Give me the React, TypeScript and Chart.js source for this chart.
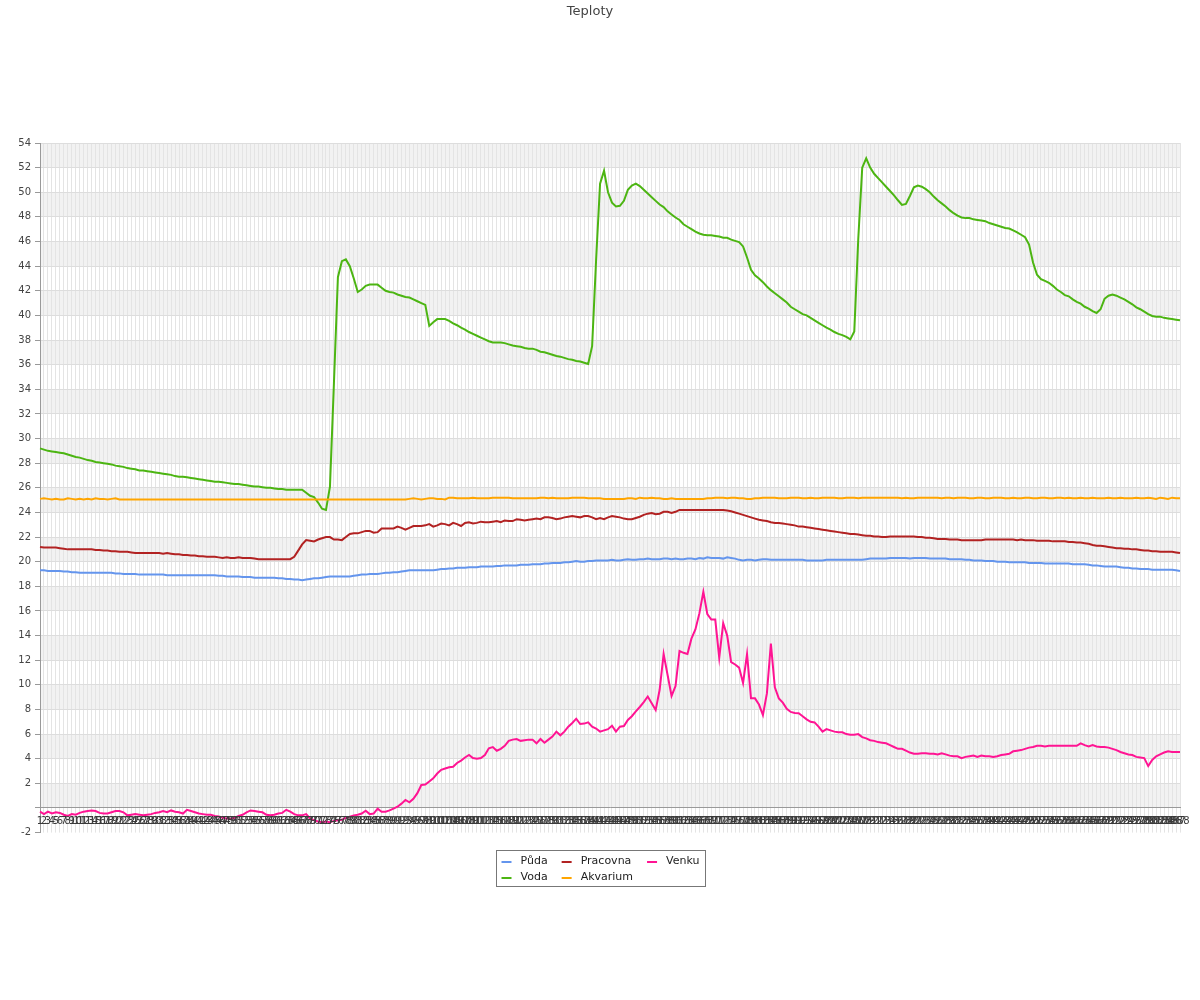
import React, { useEffect, useRef } from 'react';
import { Chart, registerables } from 'chart.js';

Chart.register(...registerables);

const FONT = '"DejaVu Sans", "Noto Sans", sans-serif';

const TITLE = 'Teploty';
const SERIES_NAMES = ['Půda', 'Voda', 'Pracovna', 'Akvarium', 'Venku'];
const SERIES_COLORS = ['#6495ed', '#4cb512', '#b22222', '#ffa500', '#ff1493'];
const LEGEND_COLUMNS = [[0, 1], [2, 3], [4]];

const Y_MIN = -2;
const Y_MAX = 54;
const Y_STEP = 1;
const BAND = 2;

// categories: samples 1..288
const LABELS = Array.from({ length: 288 }, (_, i) => String(i + 1));

const PUDA = [
  19.3, 19.3, 19.25, 19.25, 19.25, 19.25, 19.2, 19.2, 19.15, 19.15,
  19.1, 19.1, 19.1, 19.1, 19.1, 19.1, 19.1, 19.1, 19.1, 19.05,
  19.05, 19.0, 19.0, 19.0, 19.0, 18.95, 18.95, 18.95, 18.95, 18.95,
  18.95, 18.95, 18.9, 18.9, 18.9, 18.9, 18.9, 18.9, 18.9, 18.9,
  18.9, 18.9, 18.9, 18.9, 18.9, 18.85, 18.85, 18.8, 18.8, 18.8,
  18.8, 18.75, 18.75, 18.75, 18.7, 18.7, 18.7, 18.7, 18.7, 18.7,
  18.65, 18.65, 18.6, 18.6, 18.55, 18.55, 18.5, 18.55, 18.6, 18.65,
  18.65, 18.7, 18.75, 18.8, 18.8, 18.8, 18.8, 18.8, 18.8, 18.85,
  18.9, 18.95, 18.95, 19.0, 19.0, 19.0, 19.05, 19.1, 19.1, 19.15,
  19.15, 19.2, 19.25, 19.3, 19.3, 19.3, 19.3, 19.3, 19.3, 19.3,
  19.35, 19.4, 19.4, 19.45, 19.45, 19.5, 19.5, 19.5, 19.55, 19.55,
  19.55, 19.6, 19.6, 19.6, 19.6, 19.65, 19.65, 19.7, 19.7, 19.7,
  19.7, 19.75, 19.75, 19.75, 19.8, 19.8, 19.8, 19.85, 19.85, 19.9,
  19.9, 19.9, 19.95, 19.95, 20.0, 20.05, 20.0, 20.0, 20.05, 20.05,
  20.1, 20.1, 20.1, 20.1, 20.15, 20.1, 20.1, 20.15, 20.2, 20.15,
  20.15, 20.2, 20.2, 20.25, 20.2, 20.2, 20.2, 20.25, 20.25, 20.2,
  20.25, 20.2, 20.2, 20.25, 20.25, 20.2, 20.3, 20.25, 20.35, 20.3,
  20.3, 20.3, 20.25, 20.35, 20.3, 20.25, 20.15, 20.1, 20.15, 20.15,
  20.1, 20.15, 20.2, 20.2, 20.15, 20.15, 20.15, 20.15, 20.15, 20.15,
  20.15, 20.15, 20.15, 20.1, 20.1, 20.1, 20.1, 20.1, 20.15, 20.15,
  20.15, 20.15, 20.15, 20.15, 20.15, 20.15, 20.15, 20.15, 20.2, 20.25,
  20.25, 20.25, 20.25, 20.25, 20.3, 20.3, 20.3, 20.3, 20.3, 20.25,
  20.3, 20.3, 20.3, 20.3, 20.25, 20.25, 20.25, 20.25, 20.25, 20.2,
  20.2, 20.2, 20.2, 20.15, 20.15, 20.1, 20.1, 20.1, 20.05, 20.05,
  20.05, 20.0, 20.0, 20.0, 19.95, 19.95, 19.95, 19.95, 19.95, 19.9,
  19.9, 19.9, 19.9, 19.85, 19.85, 19.85, 19.85, 19.85, 19.85, 19.85,
  19.8, 19.8, 19.8, 19.8, 19.75, 19.7, 19.7, 19.65, 19.6, 19.6,
  19.6, 19.6, 19.55, 19.5, 19.5, 19.45, 19.45, 19.4, 19.4, 19.4,
  19.35, 19.35, 19.35, 19.35, 19.35, 19.35, 19.3, 19.25,
];

const VODA = [
  29.2, 29.1, 29.0, 28.95, 28.9, 28.85, 28.8, 28.7, 28.6, 28.5,
  28.45, 28.35, 28.25, 28.2, 28.1, 28.05, 28.0, 27.95, 27.9, 27.8,
  27.75, 27.7, 27.6, 27.55, 27.5, 27.4, 27.4, 27.35, 27.3, 27.25,
  27.2, 27.15, 27.1, 27.05, 26.95, 26.9, 26.9, 26.85, 26.8, 26.75,
  26.7, 26.65, 26.6, 26.55, 26.5, 26.5, 26.45, 26.4, 26.35, 26.3,
  26.3, 26.25, 26.2, 26.15, 26.1, 26.1, 26.05, 26.0, 26.0, 25.95,
  25.9, 25.9, 25.85, 25.85, 25.85, 25.85, 25.85, 25.6, 25.35, 25.25,
  24.8, 24.3, 24.2, 26.1, 34.5, 43.1, 44.4, 44.55, 44.0, 43.0,
  41.9, 42.1, 42.4, 42.5, 42.5, 42.5, 42.25, 42.0, 41.9, 41.85,
  41.7, 41.6, 41.5, 41.45, 41.3, 41.15, 41.0, 40.85, 39.15, 39.45,
  39.7, 39.7, 39.7, 39.55, 39.35, 39.2, 39.0, 38.85, 38.65, 38.5,
  38.35, 38.2, 38.05, 37.9, 37.8, 37.8, 37.8, 37.75, 37.65, 37.55,
  37.5, 37.45, 37.35, 37.3, 37.3, 37.2, 37.05, 37.0, 36.9, 36.8,
  36.7, 36.65, 36.55, 36.45, 36.4, 36.3, 36.25, 36.15, 36.05, 37.5,
  44.5, 50.7, 51.75, 50.0, 49.15, 48.85, 48.9, 49.3, 50.2, 50.55,
  50.7, 50.5, 50.2, 49.9, 49.6, 49.3, 49.0, 48.8, 48.45, 48.2,
  47.95, 47.75, 47.4, 47.2, 47.0, 46.8, 46.65, 46.55, 46.5, 46.5,
  46.45, 46.4, 46.3, 46.3, 46.15, 46.05, 45.95, 45.6, 44.7, 43.7,
  43.25, 43.0, 42.7, 42.35, 42.05, 41.8, 41.55, 41.3, 41.05, 40.7,
  40.5, 40.3, 40.1, 40.0, 39.8, 39.6, 39.4, 39.2, 39.0, 38.85,
  38.65, 38.5, 38.4, 38.25, 38.05, 38.7, 46.2, 52.0, 52.75, 52.0,
  51.5, 51.15, 50.8, 50.45, 50.1, 49.75, 49.35, 48.97, 49.05, 49.7,
  50.4, 50.55, 50.45, 50.25, 50.0, 49.65, 49.35, 49.1, 48.85, 48.55,
  48.3, 48.1, 47.95, 47.9, 47.9, 47.8, 47.75, 47.7, 47.65, 47.5,
  47.4, 47.3, 47.2, 47.1, 47.05, 46.9, 46.75, 46.55, 46.35, 45.75,
  44.3, 43.3, 42.95, 42.8, 42.65, 42.4, 42.1, 41.9, 41.65, 41.55,
  41.3, 41.1, 40.95, 40.7, 40.55, 40.35, 40.2, 40.5, 41.35, 41.6,
  41.7, 41.6, 41.45, 41.3, 41.1, 40.9, 40.65, 40.5, 40.3, 40.1,
  39.95, 39.9, 39.9, 39.8, 39.75, 39.7, 39.65, 39.6,
];

const PRACOVNA = [
  21.2, 21.15, 21.15, 21.15, 21.15, 21.1, 21.05, 21.0, 21.0, 21.0,
  21.0, 21.0, 21.0, 21.0, 20.95, 20.95, 20.9, 20.9, 20.85, 20.85,
  20.8, 20.8, 20.8, 20.75, 20.7, 20.7, 20.7, 20.7, 20.7, 20.7,
  20.7, 20.65, 20.7, 20.65, 20.6, 20.6, 20.55, 20.55, 20.5, 20.5,
  20.45, 20.45, 20.4, 20.4, 20.4, 20.35, 20.3, 20.35, 20.3, 20.3,
  20.35, 20.3, 20.3, 20.3, 20.25, 20.2, 20.2, 20.2, 20.2, 20.2,
  20.2, 20.2, 20.2, 20.2, 20.4, 20.9, 21.4, 21.75, 21.7, 21.65,
  21.8, 21.9, 22.0, 22.0, 21.8, 21.8, 21.75, 22.0, 22.25, 22.3,
  22.3, 22.4, 22.5, 22.5, 22.35, 22.4, 22.7, 22.7, 22.7, 22.7,
  22.85, 22.75, 22.6, 22.75, 22.9, 22.9, 22.9, 22.95, 23.05, 22.85,
  22.95, 23.1, 23.05, 22.95, 23.15, 23.05, 22.9, 23.15, 23.2, 23.1,
  23.15, 23.25, 23.2, 23.2, 23.25, 23.3, 23.2, 23.35, 23.3, 23.3,
  23.45, 23.4, 23.35, 23.4, 23.45, 23.5, 23.45, 23.6, 23.6, 23.55,
  23.45, 23.5, 23.6, 23.65, 23.7, 23.65, 23.6, 23.7, 23.7, 23.6,
  23.45, 23.55, 23.45, 23.6, 23.7, 23.65, 23.6, 23.5, 23.45, 23.45,
  23.55, 23.65, 23.8, 23.9, 23.95, 23.85, 23.9, 24.05, 24.05, 23.95,
  24.05, 24.2, 24.2, 24.2, 24.2, 24.2, 24.2, 24.2, 24.2, 24.2,
  24.2, 24.2, 24.2, 24.15, 24.1, 24.0, 23.9, 23.8, 23.7, 23.6,
  23.5, 23.4, 23.35, 23.3, 23.2, 23.15, 23.15, 23.1, 23.05, 23.0,
  22.95, 22.85, 22.85, 22.8, 22.75, 22.7, 22.65, 22.6, 22.55, 22.5,
  22.45, 22.4, 22.35, 22.3, 22.25, 22.25, 22.2, 22.15, 22.1, 22.1,
  22.05, 22.05, 22.0, 22.0, 22.05, 22.05, 22.05, 22.05, 22.05, 22.05,
  22.05, 22.0, 22.0, 21.95, 21.95, 21.9, 21.85, 21.85, 21.85, 21.8,
  21.8, 21.8, 21.75, 21.75, 21.75, 21.75, 21.75, 21.75, 21.8, 21.8,
  21.8, 21.8, 21.8, 21.8, 21.8, 21.8, 21.75, 21.8, 21.75, 21.75,
  21.75, 21.7, 21.7, 21.7, 21.7, 21.65, 21.65, 21.65, 21.65, 21.6,
  21.6, 21.55, 21.55, 21.5, 21.45, 21.35, 21.3, 21.3, 21.25, 21.2,
  21.15, 21.1, 21.1, 21.05, 21.05, 21.0, 21.0, 20.95, 20.9, 20.9,
  20.85, 20.85, 20.8, 20.8, 20.8, 20.8, 20.75, 20.7,
];

const AKVARIUM = [
  25.1, 25.15, 25.1, 25.05, 25.1, 25.05, 25.05, 25.15, 25.1, 25.05,
  25.1, 25.05, 25.1, 25.05, 25.15, 25.1, 25.1, 25.05, 25.1, 25.15,
  25.05, 25.05, 25.05, 25.05, 25.05, 25.05, 25.05, 25.05, 25.05, 25.05,
  25.05, 25.05, 25.05, 25.05, 25.05, 25.05, 25.05, 25.05, 25.05, 25.05,
  25.05, 25.05, 25.05, 25.05, 25.05, 25.05, 25.05, 25.05, 25.05, 25.05,
  25.05, 25.05, 25.05, 25.05, 25.05, 25.05, 25.05, 25.05, 25.05, 25.05,
  25.05, 25.05, 25.05, 25.05, 25.05, 25.05, 25.05, 25.05, 25.05, 25.05,
  25.05, 25.05, 25.05, 25.05, 25.05, 25.05, 25.05, 25.05, 25.05, 25.05,
  25.05, 25.05, 25.05, 25.05, 25.05, 25.05, 25.05, 25.05, 25.05, 25.05,
  25.05, 25.05, 25.05, 25.1, 25.15, 25.1, 25.05, 25.1, 25.15, 25.15,
  25.1, 25.1, 25.05, 25.2, 25.2, 25.15, 25.15, 25.15, 25.15, 25.2,
  25.15, 25.15, 25.15, 25.15, 25.2, 25.2, 25.2, 25.2, 25.2, 25.15,
  25.15, 25.15, 25.15, 25.15, 25.15, 25.15, 25.2, 25.2, 25.15, 25.2,
  25.15, 25.15, 25.15, 25.15, 25.2, 25.2, 25.2, 25.2, 25.15, 25.15,
  25.15, 25.15, 25.1, 25.1, 25.1, 25.1, 25.1, 25.1, 25.15, 25.15,
  25.1, 25.2, 25.15, 25.15, 25.2, 25.15, 25.15, 25.1, 25.1, 25.15,
  25.1, 25.1, 25.1, 25.1, 25.1, 25.1, 25.1, 25.1, 25.15, 25.15,
  25.2, 25.2, 25.2, 25.15, 25.2, 25.2, 25.15, 25.15, 25.1, 25.1,
  25.15, 25.15, 25.2, 25.2, 25.2, 25.2, 25.15, 25.15, 25.15, 25.2,
  25.2, 25.2, 25.15, 25.15, 25.2, 25.15, 25.15, 25.2, 25.2, 25.2,
  25.2, 25.15, 25.15, 25.2, 25.2, 25.2, 25.15, 25.2, 25.2, 25.2,
  25.2, 25.2, 25.2, 25.2, 25.2, 25.2, 25.2, 25.15, 25.2, 25.15,
  25.15, 25.2, 25.2, 25.2, 25.2, 25.2, 25.2, 25.15, 25.2, 25.2,
  25.15, 25.2, 25.2, 25.2, 25.15, 25.15, 25.2, 25.2, 25.15, 25.15,
  25.2, 25.2, 25.2, 25.15, 25.15, 25.2, 25.15, 25.15, 25.2, 25.2,
  25.15, 25.15, 25.2, 25.2, 25.15, 25.15, 25.2, 25.2, 25.15, 25.2,
  25.15, 25.15, 25.2, 25.15, 25.15, 25.2, 25.15, 25.15, 25.15, 25.2,
  25.15, 25.15, 25.2, 25.15, 25.15, 25.15, 25.2, 25.15, 25.15, 25.2,
  25.15, 25.1, 25.2, 25.15, 25.1, 25.2, 25.15, 25.15,
];

const VENKU = [
  -0.3, -0.5, -0.3, -0.45, -0.35, -0.4, -0.55, -0.65, -0.5, -0.55,
  -0.4, -0.3, -0.25, -0.2, -0.25, -0.4, -0.45, -0.45, -0.35, -0.25,
  -0.25, -0.35, -0.6, -0.55, -0.5, -0.55, -0.6, -0.55, -0.5, -0.4,
  -0.35, -0.25, -0.35, -0.2, -0.3, -0.35, -0.45, -0.15, -0.25, -0.35,
  -0.45, -0.5, -0.55, -0.55, -0.65, -0.7, -0.8, -0.85, -0.9, -0.8,
  -0.65, -0.55, -0.35, -0.2, -0.25, -0.3, -0.35, -0.55, -0.6, -0.55,
  -0.45, -0.4, -0.15, -0.3, -0.5, -0.6, -0.6, -0.5, -0.85, -1.0,
  -1.1, -1.15, -1.1, -1.15, -1.05, -1.0, -0.95, -0.8, -0.7, -0.6,
  -0.55, -0.45, -0.22, -0.5, -0.45, -0.05, -0.3, -0.3, -0.2, -0.05,
  0.1, 0.35, 0.65, 0.46, 0.75, 1.2, 1.87, 1.9, 2.15, 2.41,
  2.8, 3.1, 3.2, 3.3, 3.35, 3.65, 3.85, 4.1, 4.3, 4.05,
  4.0, 4.05, 4.3, 4.85, 4.95, 4.65, 4.8, 5.05, 5.45, 5.55,
  5.6, 5.45, 5.5, 5.55, 5.55, 5.25, 5.6, 5.3, 5.55, 5.8,
  6.2, 5.9, 6.2, 6.6, 6.9, 7.25, 6.82, 6.85, 6.95, 6.6,
  6.45, 6.2, 6.3, 6.4, 6.68, 6.2, 6.6, 6.65, 7.15, 7.45,
  7.85, 8.2, 8.6, 9.05, 8.5, 7.95, 9.6, 12.5, 10.8, 9.1,
  9.9, 12.75, 12.6, 12.5, 13.75, 14.5, 15.8, 17.55, 15.75, 15.3,
  15.3, 12.2, 15.0, 14.0, 11.85, 11.65, 11.4, 10.15, 12.5, 8.9,
  8.9, 8.4, 7.55, 9.3, 13.35, 9.8, 8.9, 8.55, 8.05, 7.8,
  7.72, 7.7, 7.45, 7.2, 7.0, 6.95, 6.6, 6.2, 6.4, 6.3,
  6.2, 6.15, 6.15, 6.0, 5.95, 5.95, 6.0, 5.75, 5.65, 5.5,
  5.45, 5.35, 5.3, 5.25, 5.1, 4.95, 4.8, 4.8, 4.65, 4.5,
  4.4, 4.4, 4.45, 4.45, 4.4, 4.4, 4.35, 4.45, 4.35, 4.25,
  4.2, 4.2, 4.05, 4.15, 4.2, 4.25, 4.15, 4.25, 4.2, 4.2,
  4.15, 4.2, 4.3, 4.35, 4.4, 4.6, 4.65, 4.7, 4.8, 4.9,
  4.95, 5.05, 5.05, 5.0, 5.05, 5.05, 5.05, 5.05, 5.05, 5.05,
  5.05, 5.05, 5.25, 5.1, 5.0, 5.1, 5.0, 4.95, 4.95, 4.9,
  4.8, 4.7, 4.55, 4.45, 4.35, 4.3, 4.15, 4.1, 4.05, 3.4,
  3.9, 4.2, 4.35, 4.5, 4.6, 4.55, 4.55, 4.55,
];

const SERIES_VALUES = [PUDA, VODA, PRACOVNA, AKVARIUM, VENKU];

const bandsPlugin = {
  id: 'bands',
  beforeDraw(chart: any) {
    const { ctx, chartArea, scales } = chart;
    const y = scales.y;
    ctx.save();
    ctx.fillStyle = '#f2f2f2';
    for (let v = 0; v < Y_MAX; v += 2 * BAND) {
      const top = y.getPixelForValue(v + BAND);
      const bottom = y.getPixelForValue(v);
      ctx.fillRect(chartArea.left, top, chartArea.right - chartArea.left, bottom - top);
    }
    ctx.restore();
  },
};

const gridLegendPlugin = {
  id: 'gridLegend',
  afterDraw(chart: any) {
    const { ctx, chartArea } = chart;
    const ds = chart.data.datasets;
    ctx.save();
    ctx.font = `11px ${FONT}`;
    const colWidths = LEGEND_COLUMNS.map((c) =>
      Math.max(...c.map((i) => ctx.measureText(ds[i].label).width))
    );
    const padL = 5;
    const padR = 6;
    const sw = 10;
    const gap = 9;
    const colGap = 14;
    let total = padL + padR + colGap * (LEGEND_COLUMNS.length - 1);
    colWidths.forEach((w) => (total += sw + gap + w));
    total = Math.round(total);
    const left = Math.round((chart.width - total) / 2) + 0.5;
    const top = Math.round(chartArea.bottom + 17) + 0.5;
    const h = 36;
    ctx.strokeStyle = '#777777';
    ctx.lineWidth = 1;
    ctx.strokeRect(left, top, total, h);
    let x = left + padL;
    LEGEND_COLUMNS.forEach((c, ci) => {
      c.forEach((i, ri) => {
        const cy = Math.round(top + 11 + ri * 16);
        ctx.strokeStyle = ds[i].borderColor;
        ctx.lineWidth = 2;
        ctx.beginPath();
        ctx.moveTo(x, cy);
        ctx.lineTo(x + sw, cy);
        ctx.stroke();
        ctx.fillStyle = '#222222';
        ctx.textBaseline = 'middle';
        ctx.textAlign = 'left';
        ctx.fillText(ds[i].label, x + sw + gap, cy - 1);
      });
      x += sw + gap + colWidths[ci] + colGap;
    });
    ctx.restore();
  },
};

export default function App() {
  const ref = useRef<HTMLCanvasElement | null>(null);

  useEffect(() => {
    if (!ref.current) return;
    Chart.defaults.font.family = FONT;
    const chart = new Chart(ref.current, {
      type: 'line',
      data: {
        labels: LABELS,
        datasets: SERIES_NAMES.map((name, i) => ({
          label: name,
          data: SERIES_VALUES[i],
          borderColor: SERIES_COLORS[i],
          backgroundColor: SERIES_COLORS[i],
          borderWidth: 2,
          pointRadius: 0,
          pointHoverRadius: 0,
          tension: 0,
          fill: false,
          order: name === 'Akvarium' ? 0 : 1,
        })),
      },
      options: {
        animation: false,
        responsive: false,
        devicePixelRatio: 1,
        layout: { padding: { top: 0, right: 20, bottom: 167.4, left: 0 } },
        plugins: {
          legend: { display: false },
          tooltip: { enabled: false },
          title: {
            display: true,
            text: TITLE,
            color: '#444444',
            font: { size: 13, weight: 'normal', family: FONT },
            padding: { top: 4, bottom: 123.4 },
          },
        },
        scales: {
          x: {
            type: 'category',
            position: { y: 0 },
            grid: { color: '#e4e4e4', lineWidth: 1, drawTicks: false },
            border: { display: true, color: '#999999', width: 1 },
            ticks: {
              autoSkip: false,
              maxRotation: 0,
              minRotation: 0,
              padding: 7,
              color: '#3a3a3a',
              font: { size: 10, family: FONT },
              z: 1,
            },
          },
          y: {
            type: 'linear',
            min: Y_MIN,
            max: Y_MAX,
            afterFit: (scale: any) => {
              scale.width = 40;
            },
            grid: {
              color: (ctx: any) => {
                const v = ctx.tick ? ctx.tick.value : 0;
                return v % 2 === 0 && v !== Y_MIN ? '#dddddd' : 'rgba(0,0,0,0)';
              },
              tickColor: '#999999',
              tickLength: 5,
              drawTicks: true,
            },
            border: { display: true, color: '#999999', width: 1 },
            ticks: {
              stepSize: Y_STEP,
              padding: 4,
              color: '#444444',
              font: { size: 10, family: FONT },
              callback: (value: any) => {
                const v = Number(value);
                return v % 2 === 0 && v !== 0 ? String(v) : '';
              },
            },
          },
        },
      },
      plugins: [bandsPlugin, gridLegendPlugin],
    } as any);
    return () => chart.destroy();
  }, []);

  return (
    <div style={{ position: 'absolute', left: 0, top: 0, width: 1200, height: 1000 }}>
      <canvas ref={ref} width={1200} height={1000} style={{ display: 'block' }} />
    </div>
  );
}
